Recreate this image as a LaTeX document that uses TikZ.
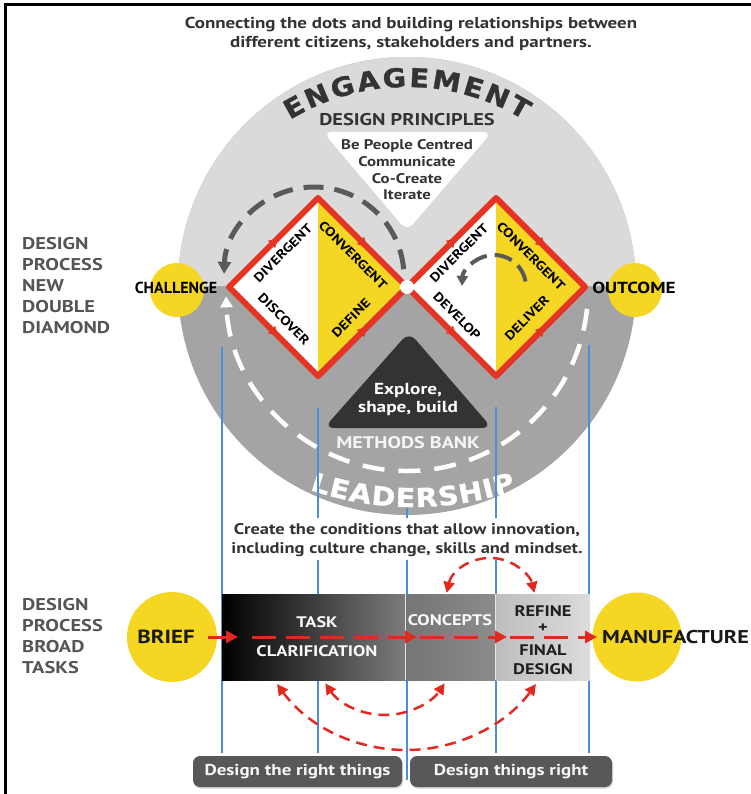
\documentclass[tikz,border=0pt]{standalone}
\usepackage{fontspec}
\setmainfont{PT Sans}[FakeStretch=1.2]
\newfontfamily\narrowf{PT Sans}
\newfontfamily\widefont{DejaVu Sans}[FakeStretch=1.1,FakeBold=1.2]
\usetikzlibrary{arrows.meta,decorations.text,decorations.markings,shadows}
\definecolor{cup}{HTML}{DADADA}
\definecolor{clow}{HTML}{A4A4A4}
\definecolor{cyel}{HTML}{F4D623}
\definecolor{cred}{HTML}{E53424}
\definecolor{ctxt}{HTML}{333333}
\definecolor{clab}{HTML}{555555}
\definecolor{cblue}{HTML}{4A90D9}
\definecolor{cdash}{HTML}{5A5A5A}
\definecolor{cdark}{HTML}{333333}
\definecolor{cbox}{HTML}{585858}
\definecolor{carr}{HTML}{E02A20}
\definecolor{csecA}{HTML}{7C7C7C}
\definecolor{csecB}{HTML}{757575}
\definecolor{csecC}{HTML}{8C8C8C}
\definecolor{csecD}{HTML}{BDBDBD}
\definecolor{csecE}{HTML}{DCDCDC}
\newcommand\pxf[2]{\fontsize{#1}{#2}\selectfont\bfseries}
\tikzset{
  dtext/.style={font=\pxf{12.8}{13}, text=black, inner sep=0},
  midarrow/.style={postaction={decorate}, decoration={markings, mark=at position 0.55 with {\arrow{Triangle[length=9pt,width=10pt]}}}},
  blueline/.style={draw=cblue, line width=1.3pt},
  redarr/.style={draw=carr, line width=3pt, dash pattern=on 24pt off 10pt, -{Triangle[length=12pt,width=12pt]}},
  redarc/.style={draw=carr, line width=2.5pt, dash pattern=on 11pt off 7pt, {Triangle[length=11pt,width=11pt]}-{Triangle[length=11pt,width=11pt]}},
  sidelabel/.style={anchor=west, align=left, font=\pxf{17}{21}, text=clab, inner sep=0},
  yelcircle/.style={circle, fill=cyel, inner sep=0},
  bartext/.style={font=\pxf{15.3}{16}, inner sep=0},
  botbox/.style={fill=cbox, rounded corners=7pt, minimum height=31pt, inner sep=0, text=white!93!gray, font=\pxf{15.8}{17}, drop shadow={shadow xshift=1pt, shadow yshift=-1.5pt, opacity=0.35}},
}
\begin{document}
\begin{tikzpicture}[x=1pt,y=-1pt]
\useasboundingbox (0,0) rectangle (751,794);
% frame
\draw[line width=3pt] (4,4.7) -- (751,4.7);
\draw[line width=3pt] (5.5,3.2) -- (5.5,794);
% top text
\node[align=center, font=\pxf{15.8}{18.5}, text=ctxt] (toptext) at (411,34) {Connecting the dots and building relationships between\\different citizens, stakeholders and partners.};
% big circle
\fill[clow] (407,286) circle[radius=229];
\fill[cup] (178,286) arc[start angle=180, end angle=360, radius=229] -- cycle;
% design principles
\fill[white, rounded corners=9pt] (323,132) -- (492,132) -- (407,231) -- cycle;
\node[font=\pxf{17}{17}, text=ctxt] (dp) at (407,120) {DESIGN PRINCIPLES};
\node[align=center, font=\pxf{14}{16.7}, text=ctxt] (princ) at (407,170) {Be People Centred\\Communicate\\Co-Create\\Iterate};
% engagement / leadership
\path[decorate, decoration={text along path, text={|\widefont\bfseries\fontsize{26}{26}\selectfont|ENGAGEMENT}, text color=ctxt, text align=fit to path}] (407,311) ++(238.5:224) arc[start angle=238.5, end angle=301.5, radius=224];
\path[decorate, decoration={text along path, text={|\widefont\bfseries\fontsize{26}{26}\selectfont|LEADERSHIP}, text color=white, text align=fit to path}] (413,190) ++(109:317) arc[start angle=109, end angle=71, radius=317];
% methods bank
\fill[cdark, rounded corners=10pt] (409,332) -- (492,428) -- (324,428) -- cycle;
\node[align=center, font=\pxf{16}{18}, text=white] (explore) at (408,399) {Explore,\\shape, build};
\node[font=\pxf{16.8}{18}, text=white!92!gray] (mbank) at (408,443) {METHODS BANK};
% blue lines
\draw[blueline] (222,347) -- (222,753);
\draw[blueline] (318,408) -- (318,518);
\draw[blueline] (318,560) -- (318,753);
\draw[blueline] (407,508) -- (407,518);
\draw[blueline] (407,560) -- (407,780);
\draw[blueline] (496,407) -- (496,518);
\draw[blueline] (496,560) -- (496,753);
\draw[blueline] (589,345) -- (589,753);
% white dashed arc
\draw[white, line width=4.5pt, dash pattern=on 22pt off 14pt, -{Triangle[length=11pt,width=12pt]}] (407,290) ++(6:181) arc[start angle=6, end angle=178, radius=181];
% diamonds
\coordinate (L1) at (229,287);
\coordinate (T1) at (318,198);
\coordinate (J) at (407,287);
\coordinate (B1) at (318,376);
\coordinate (T2) at (496,198);
\coordinate (R2) at (585,287);
\coordinate (B2) at (496,376);
\fill[white] (L1) -- (T1) -- (B1) -- cycle;
\fill[cyel] (T1) -- (J) -- (B1) -- cycle;
\fill[white] (J) -- (T2) -- (B2) -- cycle;
\fill[cyel] (T2) -- (R2) -- (B2) -- cycle;
\draw[cred, line width=6pt, line join=round] (L1) -- (T1) -- (J) -- (B1) -- cycle;
\draw[cred, line width=6pt, line join=round] (J) -- (T2) -- (R2) -- (B2) -- cycle;
\path[color=cred, midarrow] (L1) -- (T1);
\path[color=cred, midarrow] (T1) -- (J);
\path[color=cred, midarrow] (L1) -- (B1);
\path[color=cred, midarrow] (B1) -- (J);
\path[color=cred, midarrow] (J) -- (T2);
\path[color=cred, midarrow] (T2) -- (R2);
\path[color=cred, midarrow] (J) -- (B2);
\path[color=cred, midarrow] (B2) -- (R2);
\fill[white] (J) circle[radius=7];
\node[dtext, rotate=45] (dv1) at (283,253) {DIVERGENT};
\node[dtext, rotate=-45] (cv1) at (353,255) {CONVERGENT};
\node[dtext, rotate=-45] (dc1) at (284,319) {DISCOVER};
\node[dtext, rotate=45] (df1) at (351,318) {DEFINE};
\node[dtext, rotate=45] (dv2) at (459,253) {DIVERGENT};
\node[dtext, rotate=-45] (cv2) at (531,256) {CONVERGENT};
\node[dtext, rotate=-45] (dl2) at (457,316) {DEVELOP};
\node[dtext, rotate=45] (dr2) at (527,318) {DELIVER};
% gray dashed arcs
\draw[cdash, line width=5pt, dash pattern=on 20pt off 11pt, -{Triangle[length=12pt,width=13pt]}] (314,277) ++(-5:90) arc[start angle=-5, end angle=-178, radius=90];
\draw[cdash, line width=4pt, dash pattern=on 18pt off 8pt, -{Triangle[length=10pt,width=11pt]}] (494,287) ++(-10:32) arc[start angle=-10, end angle=-178, radius=32];
% challenge / outcome
\node[yelcircle, minimum size=54pt] (chc) at (177,290) {};
\node[font=\narrowf\fontsize{16}{16}\selectfont\bfseries, text=black] (chal) at (176,288) {CHALLENGE};
\node[yelcircle, minimum size=54pt] (occ) at (635,290) {};
\node[font=\pxf{16}{16}, text=black] (outc) at (634,288) {OUTCOME};
% side labels
\node[sidelabel] (lab1) at (22,286) {DESIGN\\PROCESS\\NEW\\DOUBLE\\DIAMOND};
\node[sidelabel] (lab2) at (22,636) {DESIGN\\PROCESS\\BROAD\\TASKS};
% create the conditions
\node[align=center, font=\pxf{15.4}{19}, text=ctxt] (create) at (407,540) {Create the conditions that allow innovation,\\including culture change, skills and mindset.};
% bar
\node[minimum width=184pt, minimum height=86pt, inner sep=0, left color=black, middle color=black!75!csecA, right color=csecA] (task) at (314,637) {};
\node[minimum width=90pt, minimum height=86pt, inner sep=0, left color=csecB, right color=csecC] (concepts) at (451,637) {};
\node[minimum width=94pt, minimum height=86pt, inner sep=0, left color=csecD, right color=csecE] (refine) at (543,637) {};
\draw[white!80!gray, line width=1pt] (concepts.north west) -- (concepts.south west);
\draw[white!80!gray, line width=1pt] (refine.north west) -- (refine.south west);
\node[bartext, text=white!95!gray] (t1) at (317,622) {TASK};
\node[bartext, text=white!95!gray] (t2) at (317,651) {CLARIFICATION};
\node[bartext, text=white!95!gray] (t3) at (450,620) {CONCEPTS};
\node[bartext, text=black!88] (t4) at (543,611) {REFINE};
\node[bartext, text=black!88] (t5) at (543,628) {+};
\node[bartext, text=black!88] (t6) at (543,650) {FINAL};
\node[bartext, text=black!88] (t7) at (543,669) {DESIGN};
% brief / manufacture
\node[yelcircle, minimum size=90pt] (brief) at (172,637) {};
\node[font=\pxf{19}{19}, text=black!90] (brieft) at (166,637) {BRIEF};
\node[yelcircle, minimum size=89pt] (manu) at (637,637) {};
\node[font=\pxf{18.5}{18.5}, text=black!90] (manut) at (675.5,637) {MANUFACTURE};
% red arrows
\coordinate (a0) at (208,637);
\coordinate (a1) at (238,637);
\coordinate (a2) at (417,637);
\coordinate (a3) at (507,637);
\coordinate (a4) at (597,637);
\draw[redarr] (a0) -- (a1);
\draw[redarr] ([xshift=14pt]a1) -- (a2);
\draw[redarr] ([xshift=3pt]a2) -- (a3);
\draw[redarr] ([xshift=3pt]a3) -- (a4);
\draw[redarc] (490.5,603) ++(-167:45) arc[start angle=-167, end angle=-13, radius=45];
\draw[redarc] (385,643) ++(146:72) arc[start angle=146, end angle=34, radius=72];
\draw[redarc] (406.5,590) ++(144:160) arc[start angle=144, end angle=36, radius=160];
% bottom boxes
\node[botbox, minimum width=209pt] (b1) at (297.5,771.5) {Design the right things};
\node[botbox, minimum width=202pt] (b2) at (511,771.5) {Design things right};
\end{tikzpicture}
\end{document}
